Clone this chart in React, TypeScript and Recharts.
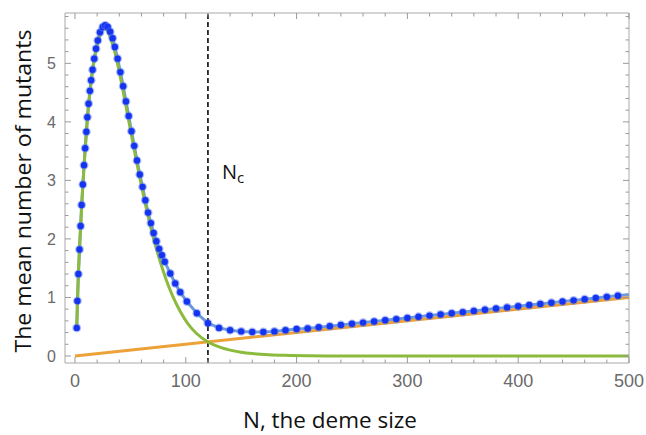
import React from "react";
import { ComposedChart, Line, Scatter, XAxis, YAxis, ReferenceLine, Label } from "recharts";

// mean number of mutants
const blueN = [
  1.6, 2.2, 3.1, 4.1, 5.1, 6.0, 7.1, 8.2, 9.2, 10.3, 11.2, 12.3, 13.5, 14.6, 15.9, 17.4, 19.0, 20.6, 22.6, 25.0,
  27.3, 29.6, 31.8, 34.0, 36, 38.5, 41, 43.5, 46, 48.5, 51, 53.5, 56, 58.5, 61, 63.5, 66, 68.5, 71, 73.5, 76, 78.5,
  81, 86, 90.5, 95, 101, 110, 120, 130, 140, 150, 160, 170, 180, 190, 200, 210, 220, 230, 240, 250, 260, 270, 280,
  290, 300, 310, 320, 330, 340, 350, 360, 370, 380, 390, 400, 410, 420, 430, 440, 450, 460, 470, 480, 490, 500,
];
const blueY = [
  0.48, 0.94, 1.4, 1.82, 2.22, 2.58, 2.93, 3.26, 3.55, 3.83, 4.08, 4.31, 4.53, 4.71, 4.89, 5.08, 5.25, 5.39, 5.53, 5.62,
  5.65, 5.62, 5.54, 5.43, 5.28, 5.08, 4.85, 4.61, 4.35, 4.1, 3.84, 3.59, 3.34, 3.1, 2.89, 2.66, 2.45, 2.27, 2.1, 1.96,
  1.83, 1.72, 1.61, 1.41, 1.24, 1.09, 0.93, 0.73, 0.56, 0.48, 0.44, 0.42, 0.41, 0.41, 0.42, 0.44, 0.46, 0.47, 0.49,
  0.51, 0.53, 0.55, 0.57, 0.59, 0.61, 0.63, 0.65, 0.67, 0.69, 0.71, 0.73, 0.75, 0.77, 0.79, 0.81, 0.83, 0.85, 0.87,
  0.89, 0.91, 0.93, 0.95, 0.97, 0.99, 1.01, 1.03, 1.05,
];

// green curve
const greenN = [
  1.6, 3, 5, 7, 9, 11, 13, 15, 17, 19, 21, 23, 25, 27, 29, 31, 33, 36, 41, 46, 51, 56, 61, 66, 71, 76, 82, 88, 95,
  102, 110, 120, 130, 140, 150, 160, 175, 190, 210, 240, 300, 400, 500,
];
const greenY = [
  0.47, 1.36, 2.17, 2.88, 3.46, 4.0, 4.41, 4.75, 5.01, 5.22, 5.38, 5.5, 5.57, 5.59, 5.56, 5.49, 5.38, 5.19, 4.76, 4.27,
  3.77, 3.28, 2.82, 2.39, 2.0, 1.67, 1.32, 1.03, 0.76, 0.55, 0.38, 0.24, 0.155, 0.1, 0.065, 0.042, 0.022, 0.011, 0.004,
  0.001, 0, 0, 0,
];

// orange straight line
const orangeN = [0, 500];
const orangeY = [0, 1];

const nCritical = 120;

const xMajor = [0, 100, 200, 300, 400, 500];
const xTicks: number[] = [];
for (let v = 0; v <= 500; v += 20) xTicks.push(v);
const yTicks: number[] = [];
for (let k = 0; k <= 29; k++) yTicks.push(Math.round(k * 2) / 10);

const blueData = blueN.map((x, i) => ({ x, y: blueY[i] }));
const dotData = blueData.slice(0, -1);
const greenData = greenN.map((x, i) => ({ x, y: greenY[i] }));
const orangeData = orangeN.map((x, i) => ({ x, y: orangeY[i] }));

const frame = "#a9a9a9";
const tickGrey = "#9a9a9a";
const labelGrey = "#6a6a6a";
const tickFont = "'Liberation Sans', Arial, sans-serif";
const titleFont = "'Open Sans', sans-serif";

const isMajorY = (v: number) => Math.abs(v - Math.round(v)) < 1e-6;

const BottomTick = (p: any) => {
  const major = xMajor.includes(p.payload.value);
  return (
    <g>
      <line x1={p.x} x2={p.x} y1={p.y} y2={p.y - (major ? 6 : 3.5)} stroke={tickGrey} />
      {major && (
        <text x={p.x} y={p.y + 24} textAnchor="middle" fontSize={18} fill={labelGrey} fontFamily={tickFont}>
          {p.payload.value}
        </text>
      )}
    </g>
  );
};

const TopTick = (p: any) => {
  const major = xMajor.includes(p.payload.value);
  return <line x1={p.x} x2={p.x} y1={p.y} y2={p.y + (major ? 6 : 3.5)} stroke={tickGrey} />;
};

const LeftTick = (p: any) => {
  const major = isMajorY(p.payload.value);
  return (
    <g>
      <line x1={p.x} x2={p.x + (major ? 6 : 3.5)} y1={p.y} y2={p.y} stroke={tickGrey} />
      {major && (
        <text x={p.x - 9} y={p.y + 6} textAnchor="end" fontSize={16} fill={labelGrey} fontFamily={tickFont}>
          {Math.round(p.payload.value)}
        </text>
      )}
    </g>
  );
};

const RightTick = (p: any) => {
  const major = isMajorY(p.payload.value);
  return <line x1={p.x} x2={p.x - (major ? 6 : 3.5)} y1={p.y} y2={p.y} stroke={tickGrey} />;
};

const BlueDot = (p: any) => (
  <g>
    <circle cx={p.cx} cy={p.cy} r={4.4} fill="#5a78f0" opacity={0.5} />
    <circle cx={p.cx} cy={p.cy} r={3.2} fill="#1434f2" />
  </g>
);

export default function App() {
  return (
    <div style={{ position: "absolute", left: 0, top: 0, background: "#fff" }}>
      <ComposedChart width={646} height={435} margin={{ top: 0, right: 0, bottom: 0, left: 0 }}>
        <XAxis
          dataKey="x"
          type="number"
          domain={[-9, 500]}
          allowDataOverflow
          ticks={xTicks}
          interval={0}
          tickSize={0}
          tickMargin={0}
          tickLine={false}
          axisLine={{ stroke: frame }}
          tick={<BottomTick />}
          height={72}
        >
          <Label
            content={() => (
              <text x={330} y={428} textAnchor="middle" fontSize={21} fill="#111" fontFamily={titleFont}
                textLength={174} lengthAdjust="spacingAndGlyphs">
                N, the deme size
              </text>
            )}
          />
        </XAxis>
        <XAxis
          xAxisId="top"
          orientation="top"
          dataKey="x"
          type="number"
          domain={[-9, 500]}
          allowDataOverflow
          ticks={xTicks}
          interval={0}
          tickSize={0}
          tickMargin={0}
          tickLine={false}
          axisLine={{ stroke: frame }}
          tick={<TopTick />}
          height={13}
        />
        <YAxis
          type="number"
          domain={[-0.12, 5.86]}
          allowDataOverflow
          ticks={yTicks}
          interval={0}
          tickSize={0}
          tickMargin={0}
          tickLine={false}
          axisLine={{ stroke: frame }}
          tick={<LeftTick />}
          width={65}
        >
          <Label
            content={() => (
              <text x={31} y={191} textAnchor="middle" fontSize={21} fill="#111" fontFamily={titleFont}
                transform="rotate(-90 31 191)" textLength={323} lengthAdjust="spacingAndGlyphs">
                The mean number of mutants
              </text>
            )}
          />
        </YAxis>
        <YAxis
          yAxisId="right"
          orientation="right"
          type="number"
          domain={[-0.12, 5.86]}
          allowDataOverflow
          ticks={yTicks}
          interval={0}
          tickSize={0}
          tickMargin={0}
          tickLine={false}
          axisLine={{ stroke: frame }}
          tick={<RightTick />}
          width={17}
        />
        <ReferenceLine
          x={nCritical}
          stroke="#1a1a1a"
          strokeWidth={1.7}
          strokeDasharray="5 3"
          label={{
            content: (p: any) => (
              <text x={p.viewBox.x + 14} y={179} fontSize={20} fill="#111" fontFamily={titleFont}>
                N
                <tspan fontSize={15} dy={4}>c</tspan>
              </text>
            ),
          }}
        />
        <Line data={blueData} dataKey="y" type="linear" stroke="#6d9ad8" strokeWidth={3} dot={false}
          activeDot={false} isAnimationActive={false} />
        <Scatter data={dotData} dataKey="y" shape={<BlueDot />} isAnimationActive={false} />
        <Line data={orangeData} dataKey="y" type="linear" stroke="#eca238" strokeWidth={3} dot={false}
          activeDot={false} isAnimationActive={false} />
        <Line data={greenData} dataKey="y" type="monotone" stroke="#8cba3c" strokeWidth={3} dot={false}
          activeDot={false} isAnimationActive={false} />
      </ComposedChart>
    </div>
  );
}
